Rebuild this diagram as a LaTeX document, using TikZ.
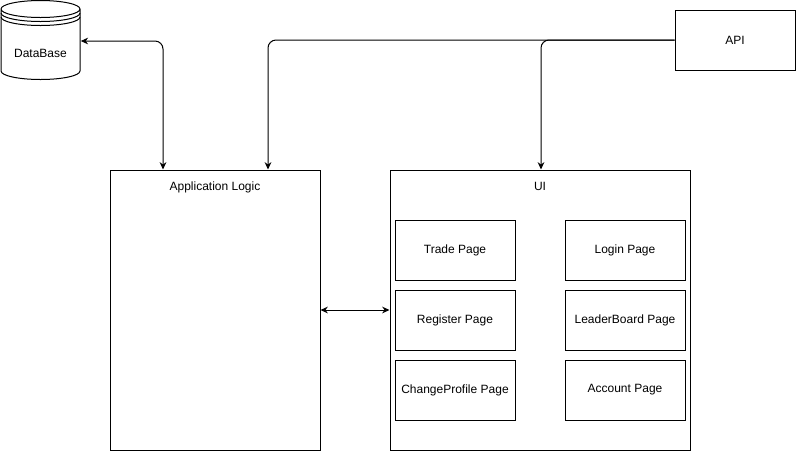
\documentclass[tikz,border=0pt]{standalone}
\usepackage{fontspec}
\setmainfont{Liberation Sans}
\usetikzlibrary{positioning,arrows.meta}

\tikzset{
  box/.style={draw, line width=0.75pt, font=\fontsize{9}{11}\selectfont},
  page/.style={box, minimum width=90pt, minimum height=45pt, inner sep=0pt},
  link/.style={line width=0.75pt, rounded corners=6pt},
  tip/.style={-{Stealth[length=5.5pt,width=5pt]}},
  bitip/.style={{Stealth[length=5.5pt,width=5pt]}-{Stealth[length=5.5pt,width=5pt]}}
}

\begin{document}
\begin{tikzpicture}[x=0.75pt,y=-0.75pt]
  \useasboundingbox (0,0) rectangle (796,451);
  % storage
  \node[minimum width=60pt, minimum height=60pt, inner sep=0pt] (db) at (40.5,41) {};
  \draw[line width=0.75pt] (1,9) arc[start angle=180, end angle=-180, x radius=39.5, y radius=8.5]
    -- (1,71) arc[start angle=180, end angle=0, x radius=39.5, y radius=8.5] -- (80,9);
  \draw[line width=0.75pt] (1,13) arc[start angle=180, end angle=0, x radius=39.5, y radius=8.5];
  \draw[line width=0.75pt] (1,17) arc[start angle=180, end angle=0, x radius=39.5, y radius=8.5];
  \node[font=\fontsize{9}{11}\selectfont] (dbtext) at (40.5,53) {DataBase};

  \node[box, minimum width=90pt, minimum height=45pt] (api) at (735,40) {API};

  \node[box, minimum width=157.5pt, minimum height=210pt] (app) at (215,310) {};
  \node[font=\fontsize{9}{11}\selectfont, below=6pt of app.north] (applabel) {Application Logic};

  \node[box, minimum width=225pt, minimum height=210pt] (ui) at (540,310) {};
  \node[font=\fontsize{9}{11}\selectfont, below=6pt of ui.north] (uilabel) {UI};

  % pages
  \node[page] (trade) at (455,250) {Trade Page};
  \node[page, right=36.75pt of trade] (login) {Login Page};
  \node[page, below=6.75pt of trade] (register) {Register Page};
  \node[page, right=36.75pt of register] (leader) {LeaderBoard Page};
  \node[page, below=6.75pt of register] (change) {ChangeProfile Page};
  \node[page, right=36.75pt of change] (account) {Account Page};

  % links
  \draw[link, bitip] (db.east) -| ([xshift=-39pt]app.north);
  \draw[link, tip] (api.west) -| ([xshift=39.75pt]app.north);
  \draw[link, tip] (api.west) -| ([xshift=0.75pt]ui.north);
  \draw[link, bitip] (app.east) -- (ui.west);
\end{tikzpicture}
\end{document}
